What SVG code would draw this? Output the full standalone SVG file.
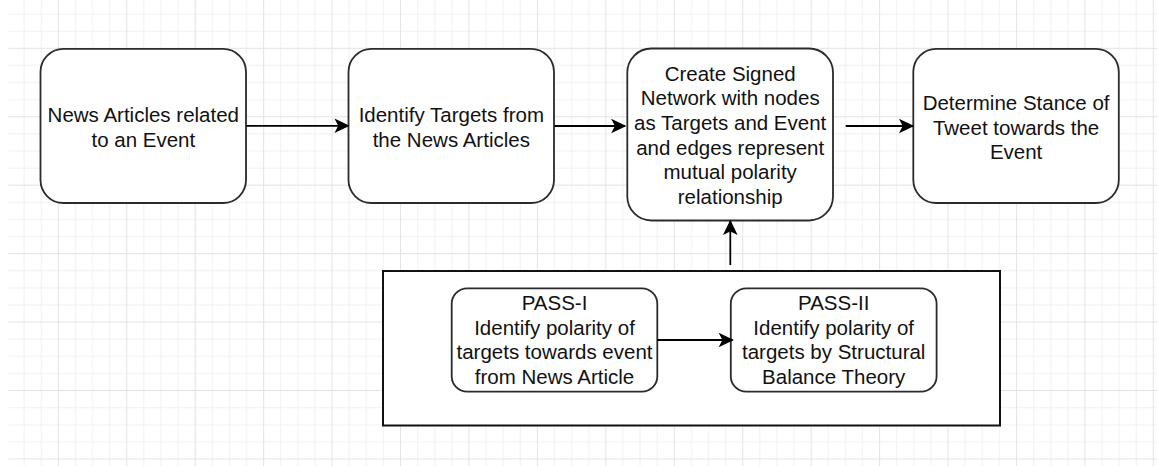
<svg xmlns="http://www.w3.org/2000/svg" width="1158" height="466" viewBox="0 0 1158 466">
<defs>
<pattern id="grid" patternUnits="userSpaceOnUse" x="-10.64" y="-20.64" width="68.44" height="68.44">
<rect x="0" y="0" width="68.44" height="68.44" fill="#ffffff"/>
<g fill="#f1f1f1">
<rect x="17.11" y="0" width="1" height="68.44"/>
<rect x="34.22" y="0" width="1" height="68.44"/>
<rect x="51.33" y="0" width="1" height="68.44"/>
<rect x="0" y="17.11" width="68.44" height="1"/>
<rect x="0" y="34.22" width="68.44" height="1"/>
<rect x="0" y="51.33" width="68.44" height="1"/>
</g>
<g fill="#e4e4e4">
<rect x="0" y="0" width="1" height="68.44"/>
<rect x="0" y="0" width="68.44" height="1"/>
</g>
</pattern>
<marker id="arrow" markerUnits="userSpaceOnUse" markerWidth="16" markerHeight="16" viewBox="-1 -1 16 16" refX="13" refY="6.5" orient="auto" overflow="visible">
<path d="M13,6.5 L0.5,0.5 L3.6,6.5 L0.5,12.5 Z" fill="#000" stroke="#000" stroke-width="1.2" stroke-linejoin="miter"/>
</marker>
<style>
.node{fill:#ffffff;stroke:#2b2b2b;stroke-width:1.8}
.frame{fill:#ffffff;stroke:#111;stroke-width:2}
.edge{fill:none;stroke:#000;stroke-width:1.8;marker-end:url(#arrow)}
text{font-family:"Liberation Sans",Arial,sans-serif;font-size:20.5px;fill:#111;text-anchor:middle}
</style>
</defs>
<rect x="8.5" y="0" width="1150" height="466" fill="url(#grid)"/>

<g id="container">
<rect class="frame" x="383" y="271" width="617" height="154.5"/>
</g>

<g id="node-news">
<rect class="node" x="40.5" y="48.8" width="205.5" height="154.2" rx="23" ry="23"/>
<text x="143.3" y="122.4">News Articles related</text>
<text x="143.3" y="147">to an Event</text>
</g>

<g id="node-targets">
<rect class="node" x="348.5" y="48.8" width="205.5" height="154.2" rx="23" ry="23"/>
<text x="451.3" y="122.4">Identify Targets from</text>
<text x="451.3" y="147">the News Articles</text>
</g>

<g id="node-network">
<rect class="node" x="627.3" y="48.5" width="205.7" height="172" rx="24" ry="24"/>
<text x="730.2" y="80.7">Create Signed</text>
<text x="730.2" y="105.3">Network with nodes</text>
<text x="730.2" y="129.9">as Targets and Event</text>
<text x="730.2" y="154.5">and edges represent</text>
<text x="730.2" y="179.1">mutual polarity</text>
<text x="730.2" y="203.7">relationship</text>
</g>

<g id="node-stance">
<rect class="node" x="913.3" y="48.8" width="205.5" height="154.2" rx="23" ry="23"/>
<text x="1016.1" y="110">Determine Stance of</text>
<text x="1016.1" y="134.6">Tweet towards the</text>
<text x="1016.1" y="159.2">Event</text>
</g>

<g id="node-pass1">
<rect class="node" x="451.7" y="288.3" width="205.6" height="103.4" rx="15.5" ry="15.5"/>
<text x="554.5" y="310">PASS-I</text>
<text x="554.5" y="334.6">Identify polarity of</text>
<text x="554.5" y="359.2">targets towards event</text>
<text x="554.5" y="383.8">from News Article</text>
</g>

<g id="node-pass2">
<rect class="node" x="730.8" y="288.3" width="205.8" height="103.4" rx="15.5" ry="15.5"/>
<text x="833.7" y="310">PASS-II</text>
<text x="833.7" y="334.6">Identify polarity of</text>
<text x="833.7" y="359.2">targets by Structural</text>
<text x="833.7" y="383.8">Balance Theory</text>
</g>

<g id="connectors">
<path class="edge" d="M246,125.8 L348.3,125.8"/>
<path class="edge" d="M554.5,126 L625,126"/>
<path class="edge" d="M845.7,126 L912.8,126"/>
<path class="edge" d="M730.3,265 L730.3,221.2"/>
<path class="edge" d="M657.3,340 L732.5,340"/>
</g>
</svg>
